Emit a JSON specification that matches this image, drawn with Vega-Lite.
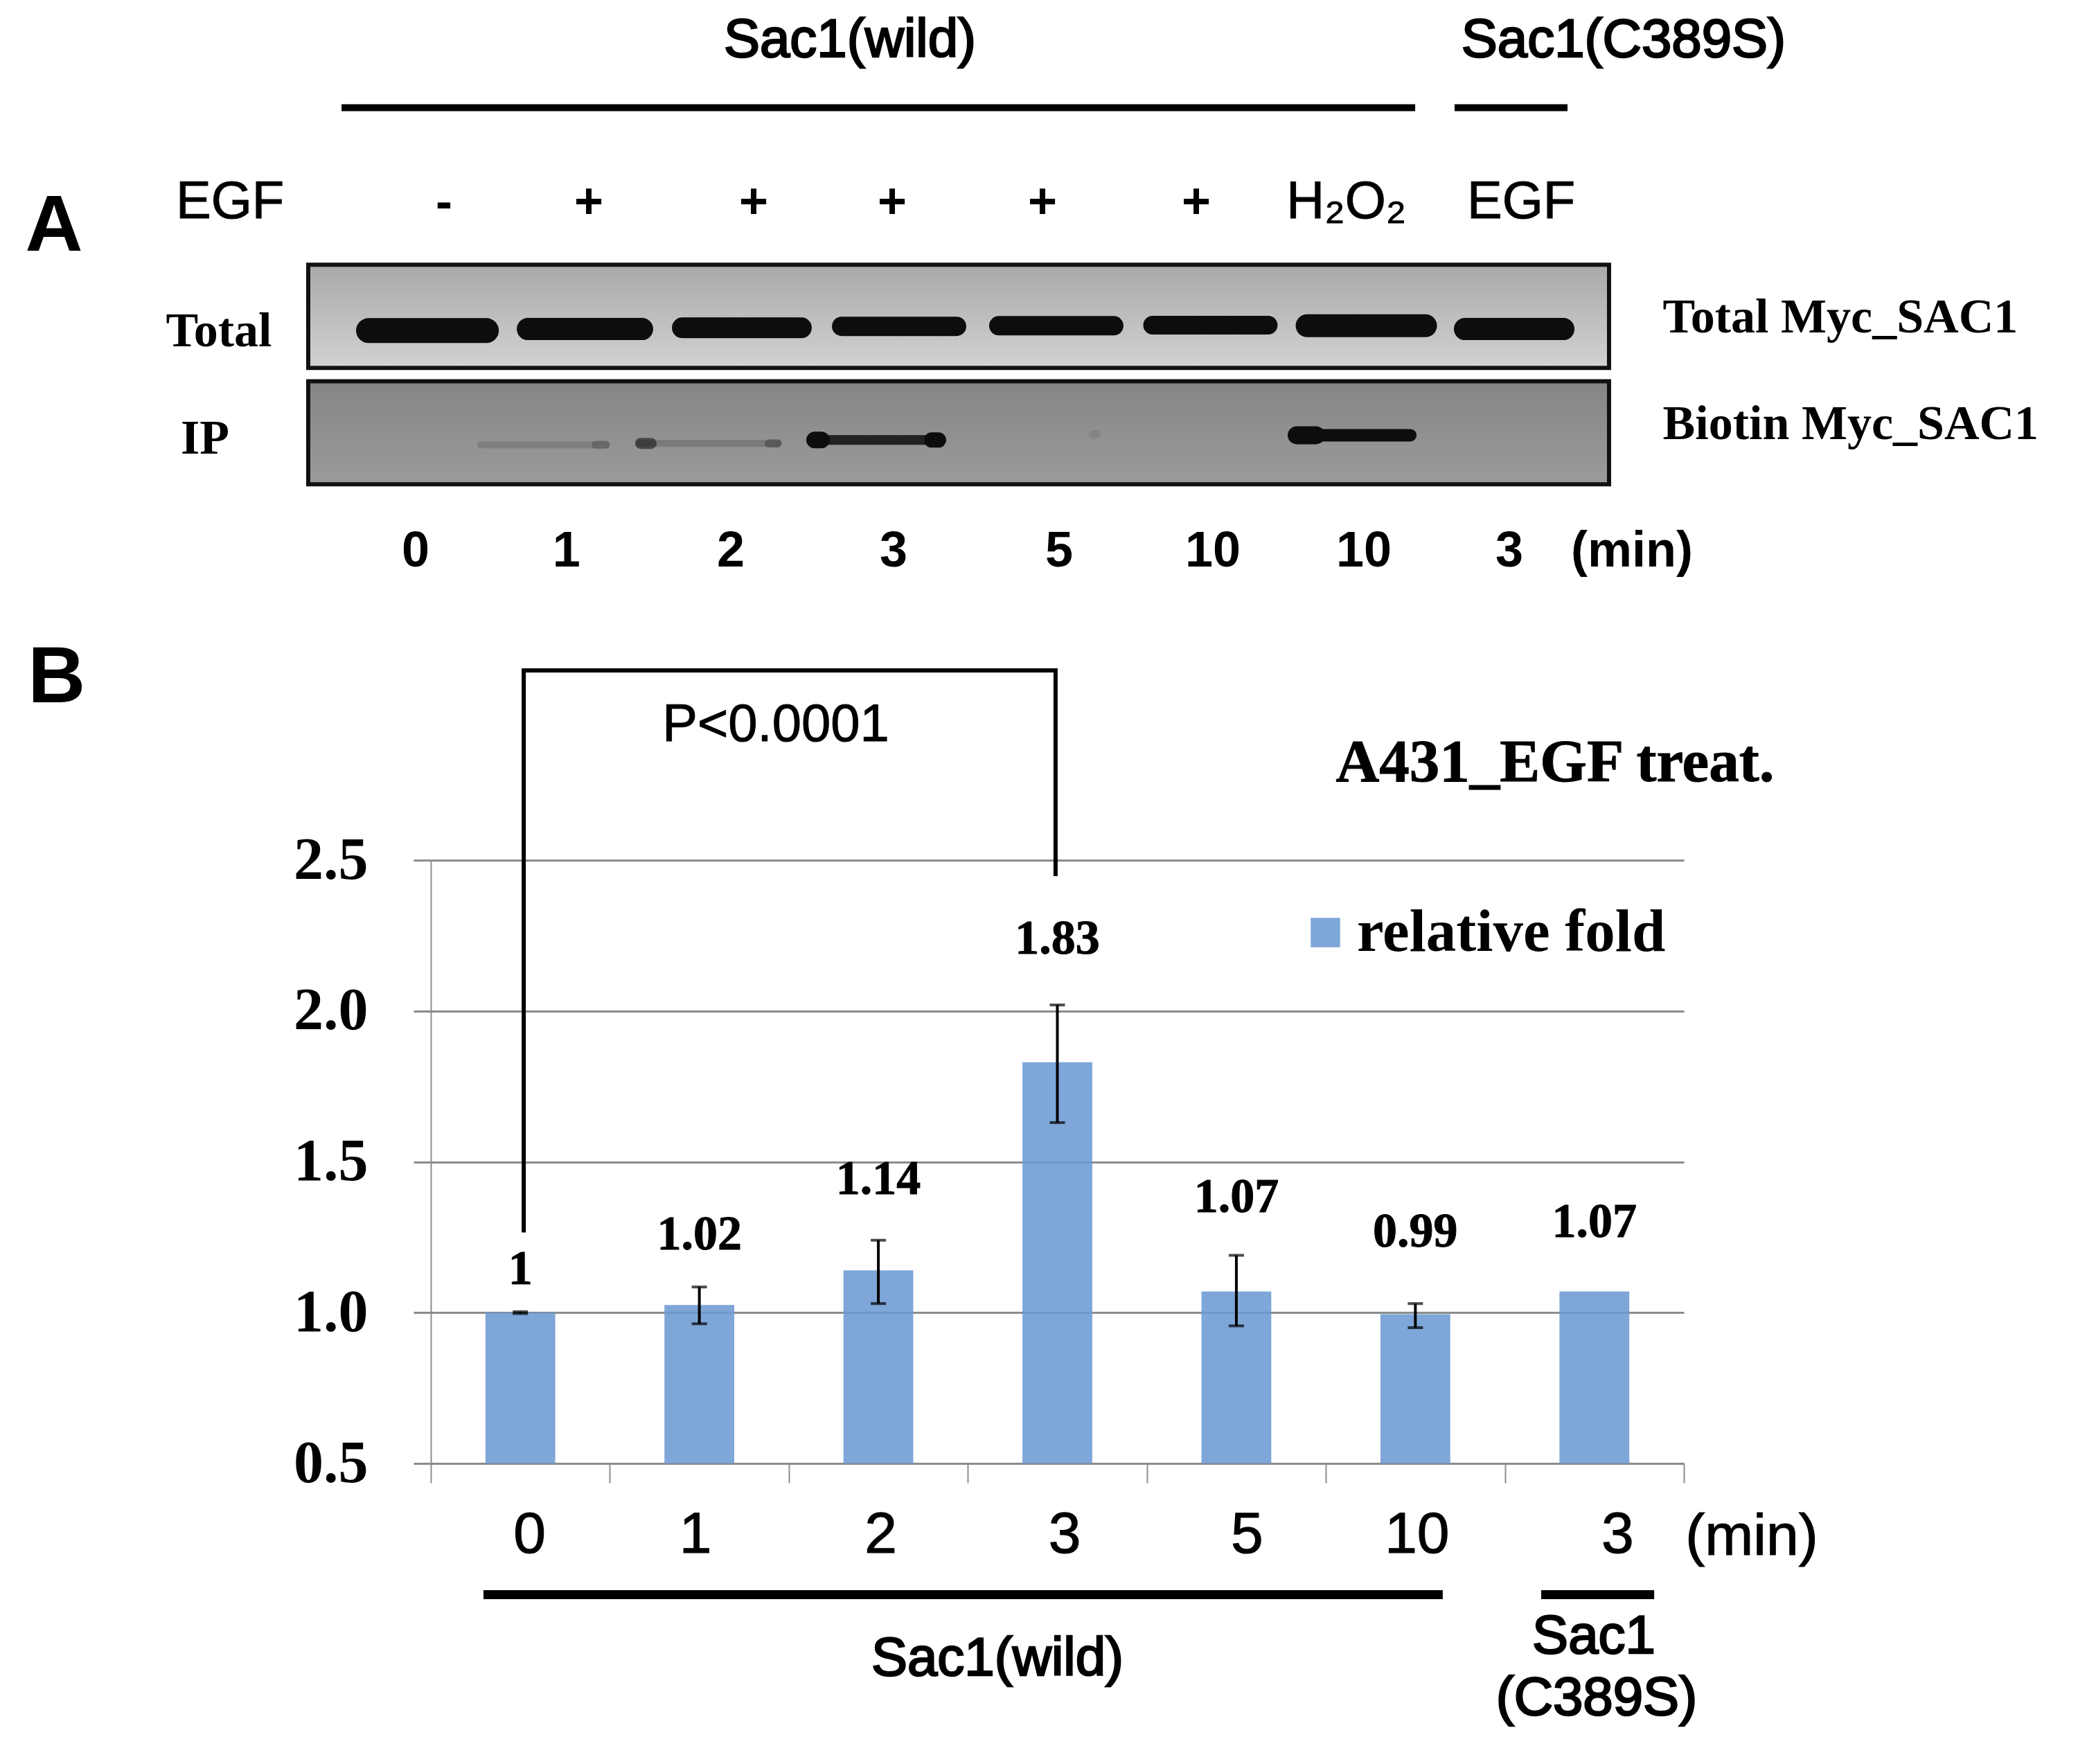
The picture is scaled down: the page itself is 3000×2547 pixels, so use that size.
{"$schema":"https://vega.github.io/schema/vega-lite/v6.json","autosize":{"type":"none"},"padding":{"left":622,"top":1242,"right":569,"bottom":434},"width":1809,"height":871,"background":"white","config":{"view":{"stroke":null},"axisY":{"format":".1f","labelFont":"Liberation Serif","labelFontWeight":"bold","labelFontSize":86,"labelColor":"black","labelPadding":66,"tickSize":25,"tickWidth":3,"tickColor":"#8c8c8c","domainColor":"#8c8c8c","domainWidth":2,"grid":true,"gridColor":"#8c8c8c","gridWidth":3,"labelOverlap":false,"labelBound":false,"labelFlush":false}},"datasets":{"bars":[{"minutes":"0","series":"relative fold","fold":1.0,"lo":0.997,"hi":1.003,"shown":"1","label_at":1.142},{"minutes":"1","series":"relative fold","fold":1.025,"lo":0.963,"hi":1.085,"shown":"1.02","label_at":1.257},{"minutes":"2","series":"relative fold","fold":1.14,"lo":1.03,"hi":1.24,"shown":"1.14","label_at":1.441},{"minutes":"3","series":"relative fold","fold":1.83,"lo":1.63,"hi":2.02,"shown":"1.83","label_at":2.238},{"minutes":"5","series":"relative fold","fold":1.07,"lo":0.956,"hi":1.19,"shown":"1.07","label_at":1.381},{"minutes":"10","series":"relative fold","fold":0.995,"lo":0.95,"hi":1.03,"shown":"0.99","label_at":1.266},{"minutes":"3 (C389S)","series":"relative fold","fold":1.07,"shown":"1.07","label_at":1.3}],"notes":[{"kind":"letter","t":"A","u":-2.105,"v":4.52},{"kind":"letter","t":"B","u":-2.09,"v":3.023},{"kind":"heavy","t":"Sac1(wild)","u":2.341,"v":5.163},{"kind":"heavy","t":"Sac1(wild)","u":3.165,"v":-0.203},{"kind":"heavy","t":"Sac1","u":6.497,"v":-0.13},{"kind":"heavy","t":"(C389S)","u":6.512,"v":-0.334},{"kind":"heavy","t":"Sac1(C389S)","u":6.663,"v":5.163},{"kind":"plain","t":"EGF","u":-1.122,"v":4.628},{"kind":"plain","t":"H₂O₂","u":5.115,"v":4.628},{"kind":"plain","t":"EGF","u":6.091,"v":4.628},{"kind":"plain","t":"P<0.0001","u":1.927,"v":2.894},{"kind":"bold","t":"-","u":0.0735,"v":4.628},{"kind":"bold","t":"+","u":0.882,"v":4.628},{"kind":"bold","t":"+","u":1.803,"v":4.628},{"kind":"bold","t":"+","u":2.577,"v":4.628},{"kind":"bold","t":"+","u":3.417,"v":4.628},{"kind":"bold","t":"+","u":4.276,"v":4.628},{"kind":"bold","t":"0","u":-0.085,"v":3.473},{"kind":"bold","t":"1","u":0.758,"v":3.473},{"kind":"bold","t":"2","u":1.676,"v":3.473},{"kind":"bold","t":"3","u":2.585,"v":3.473},{"kind":"bold","t":"5","u":3.51,"v":3.473},{"kind":"bold","t":"10","u":4.369,"v":3.473},{"kind":"bold","t":"10","u":5.212,"v":3.473},{"kind":"bold","t":"3","u":6.025,"v":3.473},{"kind":"bold","t":"(min)","u":6.71,"v":3.473},{"kind":"serif","t":"Total","u":-1.184,"v":4.203},{"kind":"serif","t":"IP","u":-1.261,"v":3.847},{"kind":"serif","t":"Total Myc_SAC1","u":7.874,"v":4.249},{"kind":"serif","t":"Biotin Myc_SAC1","u":7.932,"v":3.896},{"kind":"head","t":"A431_EGF treat.","u":6.28,"v":2.761},{"kind":"unit","t":"(min)","u":7.379,"v":0.196}],"boxes":[{"blot":"Total","u0":-0.685,"u1":6.582,"v0":4.474,"v1":4.132},{"blot":"IP","u0":-0.685,"u1":6.582,"v0":4.088,"v1":3.746}],"bands":[{"u0":-0.348,"u1":0.31,"v":4.256,"density":36,"stain":1},{"u0":0.542,"u1":1.18,"v":4.261,"density":32,"stain":1},{"u0":1.405,"u1":2.07,"v":4.265,"density":30,"stain":1},{"u0":2.295,"u1":2.937,"v":4.27,"density":28,"stain":1},{"u0":3.173,"u1":3.815,"v":4.272,"density":28,"stain":1},{"u0":4.032,"u1":4.678,"v":4.274,"density":27,"stain":1},{"u0":4.895,"u1":5.557,"v":4.272,"density":33,"stain":1},{"u0":5.777,"u1":6.327,"v":4.261,"density":32,"stain":1},{"u0":0.279,"u1":0.983,"v":3.877,"density":10,"stain":0.15},{"u0":0.921,"u1":0.975,"v":3.877,"density":12,"stain":0.2},{"u0":1.165,"u1":1.942,"v":3.882,"density":10,"stain":0.18},{"u0":1.172,"u1":1.23,"v":3.882,"density":16,"stain":0.55},{"u0":1.888,"u1":1.935,"v":3.882,"density":12,"stain":0.3},{"u0":2.144,"u1":2.836,"v":3.893,"density":14,"stain":0.85},{"u0":2.144,"u1":2.182,"v":3.893,"density":24,"stain":1},{"u0":2.798,"u1":2.836,"v":3.893,"density":22,"stain":1},{"u0":4.837,"u1":5.472,"v":3.909,"density":18,"stain":1},{"u0":4.837,"u1":4.945,"v":3.909,"density":26,"stain":1},{"u0":3.699,"u1":3.72,"v":3.912,"density":12,"stain":0.08}],"spans":[{"kind":"top","u0":-0.499,"u1":5.499,"v":4.995},{"kind":"top","u0":5.719,"u1":6.35,"v":4.995},{"kind":"bottom","u0":0.294,"u1":5.653,"v":0.065},{"kind":"bottom","u0":6.203,"u1":6.834,"v":0.065}],"bracket":[{"step":1,"u":0.519,"v":1.266},{"step":2,"u":0.519,"v":3.129},{"step":3,"u":3.49,"v":3.129},{"step":4,"u":3.49,"v":2.447}]},"resolve":{"scale":{"x":"independent"}},"layer":[{"data":{"name":"bars"},"encoding":{"x":{"field":"minutes","type":"nominal","sort":null,"scale":{"domain":["0","1","2","3","5","10","3 (C389S)"],"paddingInner":0,"paddingOuter":0},"axis":{"title":null,"labelAngle":0,"tickBand":"extent","tickSize":28,"tickWidth":2,"tickColor":"#8c8c8c","domainColor":"#8c8c8c","domainWidth":3,"grid":false,"labelFont":"Liberation Sans","labelFontSize":84,"labelColor":"black","labelPadding":34,"labelOverlap":false,"labelBound":false,"labelFlush":false,"labelExpr":"isValid(datum.value) ? split(datum.value,' ')[0] : ''","encoding":{"labels":{"dx":{"value":{"expr":"{'0':13,'1':-6,'2':3,'3':10,'5':15,'10':2,'3 (C389S)':33}[datum.value] || 0"}},"stroke":{"value":"black"},"strokeWidth":{"value":1.2}}}}}},"layer":[{"mark":{"type":"bar","width":{"band":0.39},"opacity":0.88},"encoding":{"y":{"field":"fold","type":"quantitative","title":null,"scale":{"domain":[0.5,2.5],"nice":false,"zero":false},"axis":{"title":null,"values":[0.5,1,1.5,2,2.5]}},"y2":{"datum":0.5},"color":{"field":"series","type":"nominal","scale":{"domain":["relative fold"],"range":["#6c9ad3"]},"legend":{"title":null,"orient":"none","legendX":1248,"legendY":61,"symbolType":"square","symbolSize":1800,"symbolOpacity":0.88,"symbolStrokeWidth":0,"labelFont":"Liberation Serif","labelFontWeight":"bold","labelFontSize":87,"labelColor":"black","labelOffset":2,"labelLimit":600}}}},{"transform":[{"filter":"isValid(datum.lo)"}],"mark":{"type":"errorbar","ticks":{"size":22,"thickness":4,"color":"black"},"rule":{"strokeWidth":4,"color":"black"}},"encoding":{"y":{"field":"lo","type":"quantitative","title":null,"scale":{"domain":[0.5,2.5],"nice":false,"zero":false},"axis":{"title":null,"values":[0.5,1,1.5,2,2.5]}},"y2":{"field":"hi"}}},{"mark":{"type":"text","font":"Liberation Serif","fontWeight":"bold","fontSize":70,"color":"black","stroke":"black","strokeWidth":1,"baseline":"middle"},"encoding":{"y":{"field":"label_at","type":"quantitative","title":null,"scale":{"domain":[0.5,2.5],"nice":false,"zero":false},"axis":{"title":null,"values":[0.5,1,1.5,2,2.5]}},"text":{"field":"shown"}}}]},{"encoding":{"x":{"field":"u","type":"quantitative","scale":{"domain":[0,7],"nice":false,"zero":false},"axis":null},"y":{"field":"v","type":"quantitative","title":null,"scale":{"domain":[0.5,2.5],"nice":false,"zero":false},"axis":{"title":null,"values":[0.5,1,1.5,2,2.5]}}},"layer":[{"data":{"name":"boxes"},"transform":[{"filter":"datum.blot=='Total'"}],"mark":{"type":"rect","stroke":"#111111","strokeWidth":6,"fill":{"gradient":"linear","x1":0,"y1":0,"x2":0,"y2":1,"stops":[{"offset":0,"color":"#a9a9a9"},{"offset":1,"color":"#d2d2d2"}]}},"encoding":{"x":{"field":"u0","type":"quantitative","scale":{"domain":[0,7],"nice":false,"zero":false},"axis":null},"x2":{"field":"u1"},"y":{"field":"v0","type":"quantitative","title":null,"scale":{"domain":[0.5,2.5],"nice":false,"zero":false},"axis":{"title":null,"values":[0.5,1,1.5,2,2.5]}},"y2":{"field":"v1"}}},{"data":{"name":"boxes"},"transform":[{"filter":"datum.blot=='IP'"}],"mark":{"type":"rect","stroke":"#111111","strokeWidth":6,"fill":{"gradient":"linear","x1":0,"y1":0,"x2":0,"y2":1,"stops":[{"offset":0,"color":"#858585"},{"offset":1,"color":"#9b9b9b"}]}},"encoding":{"x":{"field":"u0","type":"quantitative","scale":{"domain":[0,7],"nice":false,"zero":false},"axis":null},"x2":{"field":"u1"},"y":{"field":"v0","type":"quantitative","title":null,"scale":{"domain":[0.5,2.5],"nice":false,"zero":false},"axis":{"title":null,"values":[0.5,1,1.5,2,2.5]}},"y2":{"field":"v1"}}},{"data":{"name":"bands"},"mark":{"type":"rule","strokeCap":"round","color":"#0d0d0d"},"encoding":{"x":{"field":"u0","type":"quantitative","scale":{"domain":[0,7],"nice":false,"zero":false},"axis":null},"x2":{"field":"u1"},"size":{"field":"density","type":"quantitative","scale":{"domain":[0,40],"range":[0,40],"zero":false,"nice":false},"legend":null},"opacity":{"field":"stain","type":"quantitative","scale":{"domain":[0,1],"range":[0,1]},"legend":null}}},{"data":{"name":"spans"},"transform":[{"filter":"datum.kind=='top'"}],"mark":{"type":"rule","color":"black","strokeWidth":10},"encoding":{"x":{"field":"u0","type":"quantitative","scale":{"domain":[0,7],"nice":false,"zero":false},"axis":null},"x2":{"field":"u1"}}},{"data":{"name":"spans"},"transform":[{"filter":"datum.kind=='bottom'"}],"mark":{"type":"rule","color":"black","strokeWidth":13},"encoding":{"x":{"field":"u0","type":"quantitative","scale":{"domain":[0,7],"nice":false,"zero":false},"axis":null},"x2":{"field":"u1"}}},{"data":{"name":"bracket"},"mark":{"type":"line","color":"black","strokeWidth":6,"strokeJoin":"miter"},"encoding":{"order":{"field":"step","type":"ordinal"}}},{"data":{"name":"notes"},"transform":[{"filter":"datum.kind=='letter'"}],"mark":{"type":"text","font":"Liberation Sans","fontWeight":"bold","fontSize":115,"color":"black","baseline":"alphabetic"},"encoding":{"text":{"field":"t"}}},{"data":{"name":"notes"},"transform":[{"filter":"datum.kind=='heavy'"}],"mark":{"type":"text","font":"Liberation Sans","fontSize":78,"color":"black","stroke":"black","strokeWidth":2.5,"baseline":"alphabetic"},"encoding":{"text":{"field":"t"}}},{"data":{"name":"notes"},"transform":[{"filter":"datum.kind=='plain'"}],"mark":{"type":"text","font":"Liberation Sans","fontSize":76,"color":"black","stroke":"black","strokeWidth":1,"baseline":"alphabetic"},"encoding":{"text":{"field":"t"}}},{"data":{"name":"notes"},"transform":[{"filter":"datum.kind=='bold'"}],"mark":{"type":"text","font":"Liberation Sans","fontWeight":"bold","fontSize":72,"color":"black","baseline":"alphabetic"},"encoding":{"text":{"field":"t"}}},{"data":{"name":"notes"},"transform":[{"filter":"datum.kind=='serif'"}],"mark":{"type":"text","font":"Liberation Serif","fontWeight":"bold","fontSize":70,"color":"black","baseline":"alphabetic"},"encoding":{"text":{"field":"t"}}},{"data":{"name":"notes"},"transform":[{"filter":"datum.kind=='head'"}],"mark":{"type":"text","font":"Liberation Serif","fontWeight":"bold","fontSize":87,"color":"black","stroke":"black","strokeWidth":1,"baseline":"alphabetic"},"encoding":{"text":{"field":"t"}}},{"data":{"name":"notes"},"transform":[{"filter":"datum.kind=='unit'"}],"mark":{"type":"text","font":"Liberation Sans","fontSize":84,"color":"black","stroke":"black","strokeWidth":1.2,"baseline":"alphabetic"},"encoding":{"text":{"field":"t"}}}]}]}
